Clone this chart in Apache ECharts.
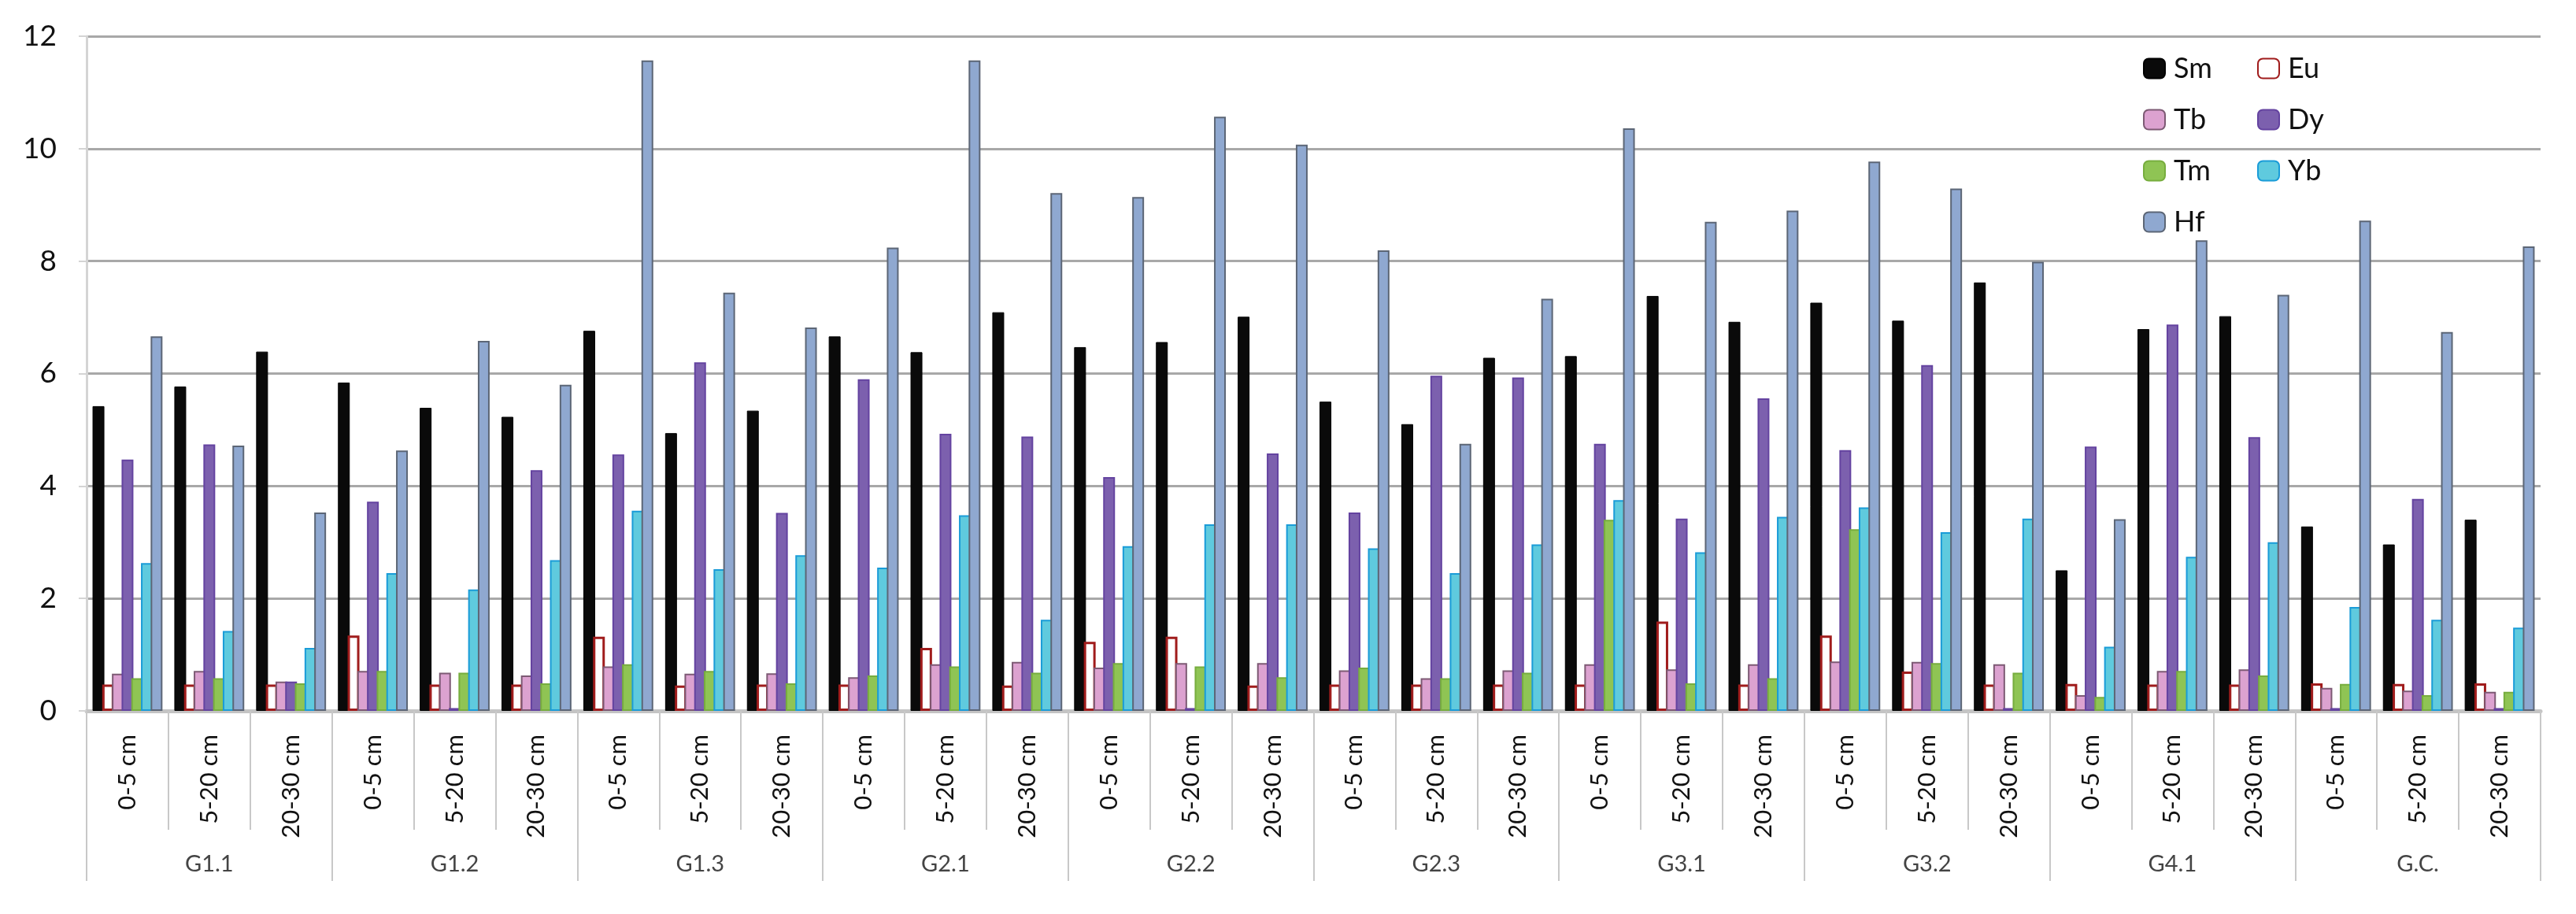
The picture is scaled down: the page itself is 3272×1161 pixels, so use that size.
<!DOCTYPE html>
<html>
<head>
<meta charset="utf-8">
<script src="https://cdn.jsdelivr.net/npm/echarts@6/dist/echarts.min.js"></script>
<style>
html,body{margin:0;padding:0;background:#fff;}
#chart{width:3272px;height:1161px;}
</style>
</head>
<body>
<div id="chart"></div>
<script>
const depths = ["0-5 cm","5-20 cm","20-30 cm"];
const groups = ["G1.1","G1.2","G1.3","G2.1","G2.2","G2.3","G3.1","G3.2","G4.1","G.C."];
const categories = [];
groups.forEach(function(){ depths.forEach(function(d){ categories.push(d); }); });

const Sm = [5.42,5.77,6.39, 5.84,5.39,5.23, 6.76,4.94,5.34, 6.66,6.38,7.09, 6.47,6.56,7.01, 5.50,5.10,6.28, 6.31,7.38,6.92, 7.26,6.94,7.62, 2.50,6.79,7.02, 3.28,2.96,3.40];
const Eu = [0.47,0.47,0.47, 1.34,0.47,0.47, 1.32,0.45,0.47, 0.47,1.12,0.45, 1.23,1.32,0.45, 0.47,0.47,0.47, 0.47,1.59,0.47, 1.34,0.70,0.47, 0.48,0.47,0.47, 0.49,0.48,0.49];
const Tb = [0.66,0.71,0.52, 0.71,0.68,0.63, 0.79,0.66,0.67, 0.60,0.83,0.87, 0.77,0.85,0.85, 0.72,0.58,0.72, 0.83,0.74,0.83, 0.88,0.87,0.83, 0.28,0.71,0.74, 0.41,0.36,0.34];
const Dy = [4.47,4.74,0.52, 3.72,0.05,4.28, 4.56,6.20,3.52, 5.90,4.93,4.88, 4.16,0.05,4.58, 3.53,5.96,5.93, 4.75,3.42,5.56, 4.64,6.15,0.05, 4.70,6.87,4.87, 0.05,3.77,0.05];
const Tm = [0.58,0.58,0.49, 0.71,0.68,0.49, 0.83,0.71,0.49, 0.63,0.79,0.68, 0.85,0.79,0.60, 0.77,0.58,0.68, 3.40,0.49,0.58, 3.23,0.85,0.68, 0.25,0.71,0.63, 0.48,0.28,0.34];
const Yb = [2.63,1.42,1.12, 2.45,2.16,2.68, 3.56,2.52,2.77, 2.55,3.48,1.62, 2.93,3.32,3.32, 2.89,2.45,2.96, 3.75,2.82,3.45, 3.62,3.18,3.42, 1.14,2.74,3.00, 1.85,1.62,1.48];
const Hf = [6.66,4.72,3.53, 4.63,6.58,5.80, 11.57,7.44,6.82, 8.24,11.57,9.21, 9.14,10.57,10.07, 8.19,4.75,7.33, 10.36,8.70,8.90, 9.77,9.29,7.99, 3.41,8.37,7.40, 8.72,6.74,8.26];
const yTicks = [0,2,4,6,8,10,12];

const FONT = 'Lato, "Open Sans", sans-serif';
const seriesDefs = [
  {name:'Sm', data:Sm, color:'#0a0a0a', border:'#000000', bw:1},
  {name:'Eu', data:Eu, color:'#ffffff', border:'#a01c1c', bw:3},
  {name:'Tb', data:Tb, color:'#dca2d0', border:'#7d5a74', bw:2},
  {name:'Dy', data:Dy, color:'#7c60ae', border:'#6443a0', bw:2},
  {name:'Tm', data:Tm, color:'#8fc454', border:'#77ad3e', bw:2},
  {name:'Yb', data:Yb, color:'#5fcade', border:'#1a9cd8', bw:2},
  {name:'Hf', data:Hf, color:'#8fa8d0', border:'#5c6676', bw:2}
];

const chart = echarts.init(document.getElementById('chart'));
const legendText = {fontSize:36, color:'#111', fontFamily:FONT, padding:[0,0,0,6]};
chart.setOption({
  animation:false,
  backgroundColor:'#ffffff',
  legend:[
    {data:['Sm','Tb','Tm','Hf'], orient:'vertical', left:2717, top:64, itemWidth:27, itemHeight:25, itemGap:29, textStyle:legendText},
    {data:['Eu','Dy','Yb'], orient:'vertical', left:2862, top:64, itemWidth:27, itemHeight:25, itemGap:29, textStyle:legendText}
  ],
  grid:{left:110, right:45, top:46, bottom:258, containLabel:false},
  xAxis:[
    {type:'category', data:categories, position:'bottom',
     axisLine:{show:true, lineStyle:{color:'#c4c4c4', width:5}},
     axisTick:{show:true, interval:0, length:151, lineStyle:{color:'#c8c8c8', width:2}},
     axisLabel:{interval:0, rotate:90, margin:30, fontSize:31, color:'#111', fontFamily:FONT},
     splitLine:{show:false}},
    {type:'category', data:groups, position:'bottom',
     axisLine:{show:false},
     axisTick:{show:true, interval:0, length:216, lineStyle:{color:'#c8c8c8', width:2}},
     axisLabel:{interval:0, margin:180, fontSize:29, color:'#444', fontFamily:FONT},
     splitLine:{show:false}}
  ],
  yAxis:{type:'value', min:0, max:12, interval:2,
    axisLine:{show:true, lineStyle:{color:'#d4d4d4', width:3}},
    axisTick:{show:true, length:10, lineStyle:{color:'#d4d4d4', width:2}},
    axisLabel:{margin:38, fontSize:37, color:'#111', fontFamily:FONT,
      formatter:function(v){ return yTicks.indexOf(v) >= 0 ? String(v) : ''; }},
    splitLine:{show:true, lineStyle:{color:'#a8a8a8', width:3}}
  },
  series: seriesDefs.map(function(s){
    return {name:s.name, type:'bar', xAxisIndex:0, data:s.data, barWidth:15, barGap:'-18%',
      itemStyle:{color:s.color, borderColor:s.border, borderWidth:s.bw}};
  })
});
</script>
</body>
</html>
